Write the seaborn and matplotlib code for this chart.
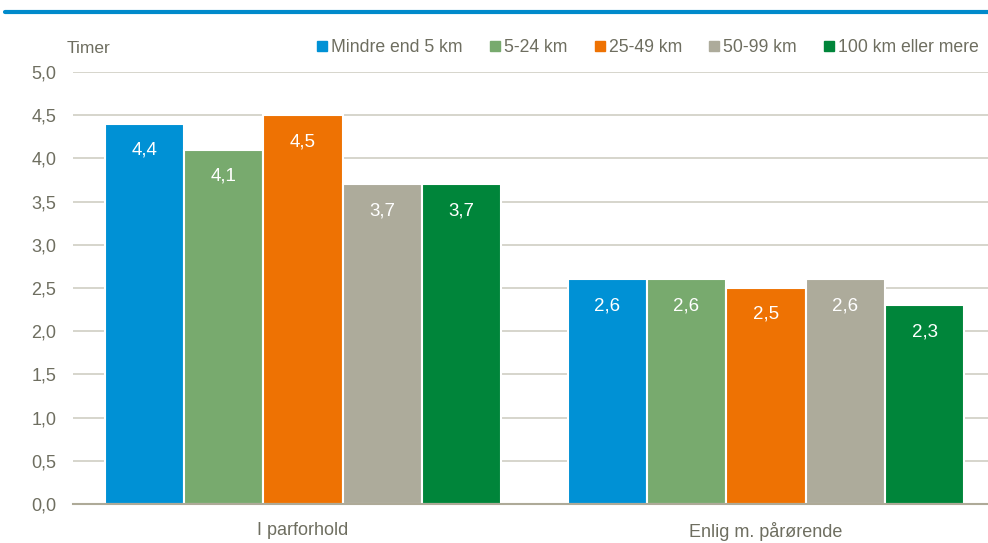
import matplotlib.pyplot as plt
import seaborn as sns
import pandas as pd
from matplotlib.lines import Line2D

# data
groups = ['I parforhold', 'Enlig m. pårørende']
distances = ['Mindre end 5 km', '5-24 km', '25-49 km', '50-99 km', '100 km eller mere']
parforhold = [4.4, 4.1, 4.5, 3.7, 3.7]
enlig = [2.6, 2.6, 2.5, 2.6, 2.3]
colors = ['#0091D5', '#78AA6E', '#EE7203', '#ADAB9B', '#00853A']
yticks = [0.0, 0.5, 1.0, 1.5, 2.0, 2.5, 3.0, 3.5, 4.0, 4.5, 5.0]

rows = []
for d, v in zip(distances, parforhold):
    rows.append({'Gruppe': groups[0], 'Afstand': d, 'Timer': v})
for d, v in zip(distances, enlig):
    rows.append({'Gruppe': groups[1], 'Afstand': d, 'Timer': v})
df = pd.DataFrame(rows)

sns.set_style('white')
plt.rcParams['font.family'] = ['Liberation Sans', 'DejaVu Sans']
txt = '#6E6E60'

fig = plt.figure(figsize=(9.88, 5.43), dpi=100)
ax = fig.add_axes([0.0739, 0.0718, 0.9261, 0.7956])

sns.barplot(data=df, x='Gruppe', y='Timer', hue='Afstand', hue_order=distances,
            palette=colors, width=0.857, edgecolor='white', linewidth=1.5,
            saturation=1, ax=ax, legend=False)

ax.set_ylim(0, 5.0)
ax.set_xlim(-0.497, 1.48)
ax.set_yticks(yticks)
ax.set_yticklabels([f'{t:.1f}'.replace('.', ',') for t in yticks])
ax.yaxis.grid(True, color='#CFCEC4', linewidth=1.2)
ax.set_axisbelow(True)
for s in ['top', 'right', 'left']:
    ax.spines[s].set_visible(False)
ax.spines['bottom'].set_color('#AEAA98')
ax.spines['bottom'].set_linewidth(1.5)
ax.tick_params(axis='both', length=0, labelsize=13, labelcolor=txt)
ax.tick_params(axis='y', pad=12)
ax.tick_params(axis='x', pad=13)
ax.set_xlabel('')
ax.set_ylabel('')

for cont in ax.containers:
    for bar in cont:
        h = bar.get_height()
        ax.annotate(f'{h:.1f}'.replace('.', ','),
                    (bar.get_x() + bar.get_width() / 2, h),
                    xytext=(0, -19), textcoords='offset points',
                    ha='center', va='center', color='white', fontsize=13.5)

fig.text(0.067, 0.911, 'Timer', color=txt, fontsize=12.5, ha='left', va='center')

handles = [Line2D([], [], marker='s', linestyle='', markersize=7,
                  markerfacecolor=c, markeredgecolor=c) for c in colors]
fig.legend(handles, distances, loc='center right', bbox_to_anchor=(1.007, 0.913),
           ncol=5, frameon=False, fontsize=12.7, labelcolor=txt,
           handletextpad=0.1, columnspacing=1.45, handlelength=0.8)

fig.add_artist(Line2D([0.005, 1.0], [0.978, 0.978], color='#008ACB', linewidth=3,
                      transform=fig.transFigure))

fig.savefig('out.png', dpi=100)
